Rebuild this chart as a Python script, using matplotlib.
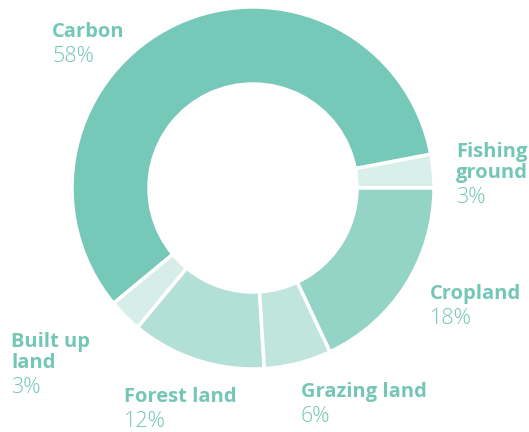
import matplotlib
matplotlib.use('Agg')
import matplotlib.pyplot as plt

# slices, counter-clockwise from 3 o'clock
labels = ['Fishing ground', 'Carbon', 'Built up land', 'Forest land', 'Grazing land', 'Cropland']
shares = [3, 58, 3, 12, 6, 18]
colors = ['#d9efe9', '#76c8b8', '#d6ede8', '#b2dfd6', '#c0e5dd', '#93d4c6']

txt_col = '#74c7b6'
plt.rcParams['font.family'] = ['Open Sans', 'DejaVu Sans']

fig = plt.figure(figsize=(5.29, 4.32), dpi=100)
ax = fig.add_axes([0, 0, 1, 1])
ax.set_xlim(0, 529)
ax.set_ylim(0, 432)
ax.set_aspect('equal')
ax.axis('off')

R = 181
wedges, _ = ax.pie(shares, colors=colors, startangle=0, counterclock=True,
                   center=(253, 244), radius=R,
                   wedgeprops=dict(width=R - 104, edgecolor='white', linewidth=2.5))
ax.set_xlim(0, 529)
ax.set_ylim(0, 432)

# label text: (name lines, x, baseline of first line in px from top)
lab_pos = {
    'Carbon': (['Carbon'], 52, 37),
    'Fishing ground': (['Fishing', 'ground'], 456, 157),
    'Cropland': (['Cropland'], 430, 299),
    'Built up land': (['Built up', 'land'], 11, 347),
    'Forest land': (['Forest land'], 124, 402),
    'Grazing land': (['Grazing land'], 301, 397),
}

for name, val in zip(labels, shares):
    lines, x, y = lab_pos[name]
    for i, ln in enumerate(lines):
        ax.text(x, 432 - (y + i * 21), ln, color=txt_col, fontsize=14.5,
                fontweight='bold', va='baseline', ha='left')
    y_pct = y + (len(lines) - 1) * 21 + 25
    ax.text(x, 432 - y_pct, f'{val}%', color=txt_col, fontsize=15.5,
            fontweight='light', va='baseline', ha='left')

fig.savefig('out.png', dpi=100)
